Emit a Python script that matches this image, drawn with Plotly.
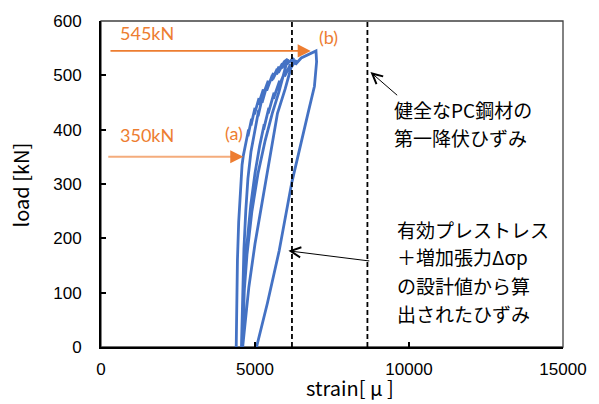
import plotly.graph_objects as go

# ---------------- data ----------------
# initial loading (passes point (a) at 350 kN), jagged near the top
A_strain = [4390, 4405, 4430, 4470, 4520, 4580, 4620, 4700, 4685, 4790, 4770, 4890, 4870, 5000, 4980,
            5130, 5110, 5270, 5250, 5430, 5410, 5600, 5580, 5780, 5760, 5950, 6060]
A_load = [0, 80, 160, 230, 290, 335, 352, 378, 366, 400, 388, 420, 408, 440, 428,
          458, 446, 474, 462, 490, 478, 504, 493, 516, 505, 525, 530]
# first unloading
U1_strain = [6060, 5950, 5780, 5560, 5330, 5100, 4900, 4740, 4620, 4560]
U1_load = [530, 505, 470, 430, 380, 320, 250, 170, 80, 0]
# second loading
L2_strain = [4560, 4590, 4640, 4700, 4770, 4870, 4990, 5120, 5100, 5250, 5230, 5400, 5380, 5560, 5540,
             5720, 5700, 5890, 5870, 6060, 6040, 6250]
L2_load = [0, 90, 180, 250, 310, 360, 400, 436, 425, 462, 450, 484, 472, 500, 490,
           512, 502, 522, 513, 530, 521, 532]
# second unloading
U2_strain = [6250, 6150, 5980, 5730, 5480, 5236, 5000, 4800, 4660, 4600]
U2_load = [532, 510, 475, 430, 350, 267, 190, 110, 40, 0]
# final loading up to (b) 545 kN
L3_strain = [4600, 4650, 4740, 4860, 5000, 5150, 5300, 5280, 5450, 5430, 5620, 5600, 5800, 5780,
             5980, 5960, 6150, 6130, 6330, 6310, 6500, 6700, 6980]
L3_load = [0, 100, 190, 260, 320, 370, 410, 400, 440, 430, 468, 457, 490, 480,
           508, 498, 520, 511, 528, 520, 532, 537, 545]
# final unloading
R_strain = [6980, 7000, 6930, 6720, 6450, 6196, 5785, 5400, 5050]
R_load = [545, 525, 480, 430, 365, 303, 177, 80, 0]

# reference strains (dashed lines)
yield_strain = 8650        # 健全なPC鋼材の第一降伏ひずみ
design_strain = 6200       # 設計値から算出されたひずみ

x_ticks = [0, 5000, 10000, 15000]
y_ticks = [0, 100, 200, 300, 400, 500, 600]

load_a = 350
load_b = 545
strain_a = 4620
strain_b_tip = 6810

# ---------------- figure ----------------
blue = "#4472C4"
orange = "#ED7D31"
light_orange = "#F4AC7C"

strain_all = A_strain + U1_strain[1:] + L2_strain[1:] + U2_strain[1:] + L3_strain[1:] + R_strain[1:]
load_all = A_load + U1_load[1:] + L2_load[1:] + U2_load[1:] + L3_load[1:] + R_load[1:]

fig = go.Figure()
fig.add_trace(go.Scatter(x=strain_all, y=load_all, mode="lines",
                         line=dict(color=blue, width=2.8), showlegend=False,
                         hoverinfo="skip"))
for xs in [design_strain, yield_strain]:
    fig.add_trace(go.Scatter(x=[xs, xs], y=[0, 600], mode="lines",
                             line=dict(color="black", width=1.8, dash="5px,3px"),
                             showlegend=False, hoverinfo="skip"))

tickfont = dict(family="Liberation Sans, Arial, sans-serif", size=17, color="black")
fig.update_xaxes(range=[0, 15000], tickvals=x_ticks, ticktext=[str(v) for v in x_ticks],
                 showline=True, linecolor="black", linewidth=2, ticks="inside",
                 ticklen=5, tickwidth=1.5, tickcolor="black", showgrid=False,
                 zeroline=False, tickfont=tickfont, ticklabelstandoff=6)
fig.update_yaxes(range=[0, 600], tickvals=y_ticks, ticktext=[str(v) for v in y_ticks],
                 showline=True, linecolor="black", linewidth=2, ticks="inside",
                 ticklen=5, tickwidth=1.5, tickcolor="black", showgrid=False,
                 zeroline=False, tickfont=tickfont, ticklabelstandoff=14)

shapes = [
    dict(type="rect", xref="paper", yref="paper", x0=0, x1=1, y0=0, y1=1,
         line=dict(color="#404040", width=1.3), layer="below"),
    dict(type="line", xref="x", yref="y", x0=236, y0=load_a, x1=strain_a - 300, y1=load_a,
         line=dict(color=light_orange, width=2)),
]

jp = "Noto Sans CJK JP"
ofont = dict(family="Lato, sans-serif", size=18, color=orange)
tfont = dict(family=jp, size=19, color="black")

ann = []
# orange arrows
ann.append(dict(x=strain_b_tip, y=load_b, ax=259, ay=load_b, xref="x", yref="y", axref="x", ayref="y",
                text="", showarrow=True, arrowhead=2, arrowsize=1.45, arrowwidth=1.8,
                arrowcolor=orange))
ann.append(dict(x=strain_a, y=load_a, ax=strain_a - 400, ay=load_a, xref="x", yref="y", axref="x",
                ayref="y", text="", showarrow=True, arrowhead=2, arrowsize=1.45, arrowwidth=1.8,
                arrowcolor=orange))
ann.append(dict(x=550, y=578, xref="x", yref="y", text="545kN", showarrow=False,
                xanchor="left", yanchor="middle", font=ofont))
ann.append(dict(x=550, y=391, xref="x", yref="y", text="350kN", showarrow=False,
                xanchor="left", yanchor="middle", font=ofont))
ann.append(dict(x=4316, y=394, xref="x", yref="y", text="(a)", showarrow=False,
                xanchor="center", yanchor="middle", font=ofont))
ann.append(dict(x=7371, y=571, xref="x", yref="y", text="(b)", showarrow=False,
                xanchor="center", yanchor="middle", font=ofont))
# black arrows
ann.append(dict(x=8749, y=506, ax=9664, ay=461, xref="x", yref="y", axref="x", ayref="y",
                text="", showarrow=True, arrowhead=5, arrowsize=2.0, arrowwidth=1,
                arrowcolor="black"))
ann.append(dict(x=6086, y=177, ax=8759, ay=158, xref="x", yref="y", axref="x", ayref="y",
                text="", showarrow=True, arrowhead=5, arrowsize=2.0, arrowwidth=1,
                arrowcolor="black"))
# black texts
block1 = ["健全なPC鋼材の", "第一降伏ひずみ"]
block1_y = [438, 386]
block2 = ["有効プレストレス", "＋増加張力Δσp", "の設計値から算", "出されたひずみ"]
block2_y = [217, 166, 113, 62]
for t, yv in zip(block1, block1_y):
    ann.append(dict(x=9440, y=yv, xref="x", yref="y", text=t, showarrow=False,
                    xanchor="left", yanchor="middle", font=tfont))
for t, yv in zip(block2, block2_y):
    ann.append(dict(x=9537, y=yv, xref="x", yref="y", text=t, showarrow=False,
                    xanchor="left", yanchor="middle", font=tfont))
# axis titles
ann.append(dict(x=-0.175, y=0.496, xref="paper", yref="paper", text="load [kN]", textangle=-90,
                showarrow=False, xanchor="center", yanchor="middle",
                font=dict(family=jp, size=20, color="black")))
ann.append(dict(x=0.54, y=-0.125, xref="paper", yref="paper", text="strain[ μ ]",
                showarrow=False, xanchor="center", yanchor="middle",
                font=dict(family=jp, size=20, color="black")))

fig.update_layout(width=599, height=404, margin=dict(l=101, r=34, t=17, b=57),
                  paper_bgcolor="white", plot_bgcolor="white",
                  shapes=shapes, annotations=ann, showlegend=False)

fig.write_html("out.html")
